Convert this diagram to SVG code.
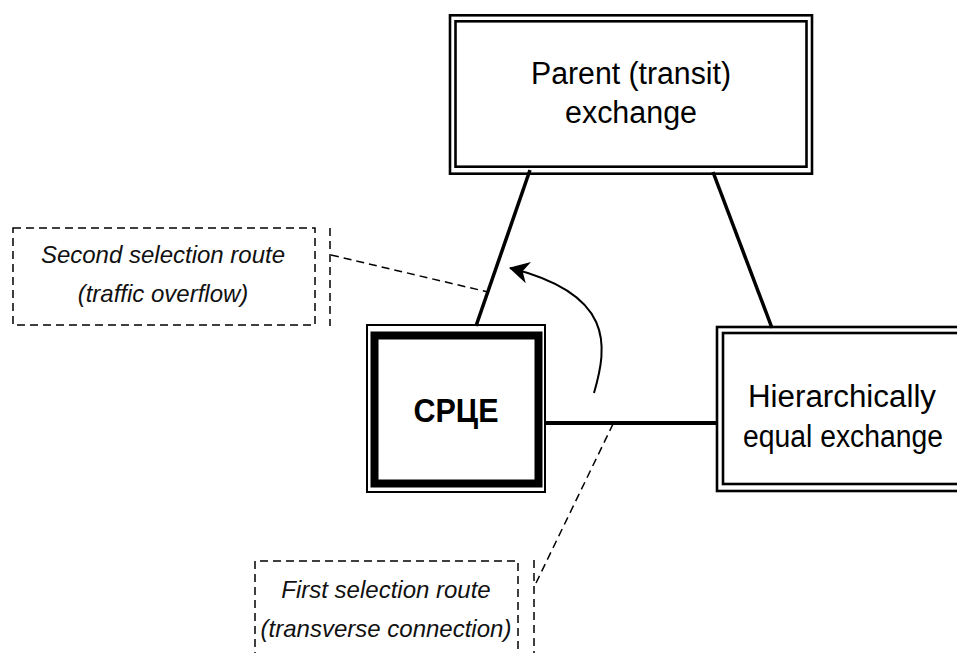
<svg xmlns="http://www.w3.org/2000/svg" width="957" height="653" viewBox="0 0 957 653">
<style>
.box{fill:none;stroke:#000;stroke-width:2.6}
.lbl{font-family:"Liberation Sans",Arial,sans-serif;fill:#000;text-anchor:middle}
.note{font-family:"Liberation Sans",Arial,sans-serif;font-style:italic;font-size:24px;fill:#111;text-anchor:middle}
.dash{fill:none;stroke:#000;stroke-width:1.5;stroke-dasharray:8 5}
.conn{fill:none;stroke:#000;stroke-width:3.5}
</style>
<defs>
<marker id="ah" markerWidth="22" markerHeight="22" refX="19" refY="11" orient="auto" markerUnits="userSpaceOnUse">
<path d="M0,0 L20,11 L0,22 L6,11 Z" fill="#000"/>
</marker>
</defs>
<rect width="957" height="653" fill="#fff"/>
<g id="connectors">
<line class="conn" x1="530" y1="170" x2="476" y2="326"/>
<line class="conn" x1="713" y1="172" x2="772" y2="328"/>
<line class="conn" x1="545" y1="423" x2="717" y2="423" style="stroke-width:4"/>
<path d="M594,393 C608,345 614,294 510,268" fill="none" stroke="#000" stroke-width="2" marker-end="url(#ah)"/>
<line class="dash" x1="331" y1="255" x2="488" y2="292"/>
<line class="dash" x1="536" y1="583" x2="614" y2="422"/>
</g>
<g id="parent">
<rect class="box" x="450" y="15.3" width="362" height="158.4"/>
<rect class="box" x="455.5" y="21.3" width="351" height="145.4"/>
<text class="lbl" x="631" y="84" font-size="31" textLength="200" lengthAdjust="spacingAndGlyphs">Parent (transit)</text>
<text class="lbl" x="631" y="123" font-size="31" textLength="132" lengthAdjust="spacingAndGlyphs">exchange</text>
</g>
<g id="srce">
<rect x="367" y="325" width="178" height="167" fill="none" stroke="#000" stroke-width="2"/>
<rect x="374.5" y="335.5" width="164" height="148" fill="none" stroke="#000" stroke-width="8"/>
<text class="lbl" x="456" y="422" font-size="33" font-weight="bold" textLength="85" lengthAdjust="spacingAndGlyphs">СРЦЕ</text>
</g>
<g id="equal">
<rect class="box" x="717" y="327" width="270" height="164"/>
<rect class="box" x="723" y="333" width="258" height="151"/>
<text class="lbl" x="842" y="407" font-size="31" textLength="188" lengthAdjust="spacingAndGlyphs">Hierarchically</text>
<text class="lbl" x="843" y="447" font-size="31" textLength="200" lengthAdjust="spacingAndGlyphs">equal exchange</text>
</g>
<g id="note-second">
<rect class="dash" x="13" y="228" width="302" height="97"/>
<line class="dash" x1="330" y1="228" x2="330" y2="326"/>
<text class="note" x="163" y="263">Second selection route</text>
<text class="note" x="163" y="302">(traffic overflow)</text>
</g>
<g id="note-first">
<path class="dash" d="M255,660 L255,561 L518,561 L518,660"/>
<line class="dash" x1="534" y1="560" x2="534" y2="660"/>
<text class="note" x="386" y="598">First selection route</text>
<text class="note" x="386" y="637">(transverse connection)</text>
</g>
</svg>
